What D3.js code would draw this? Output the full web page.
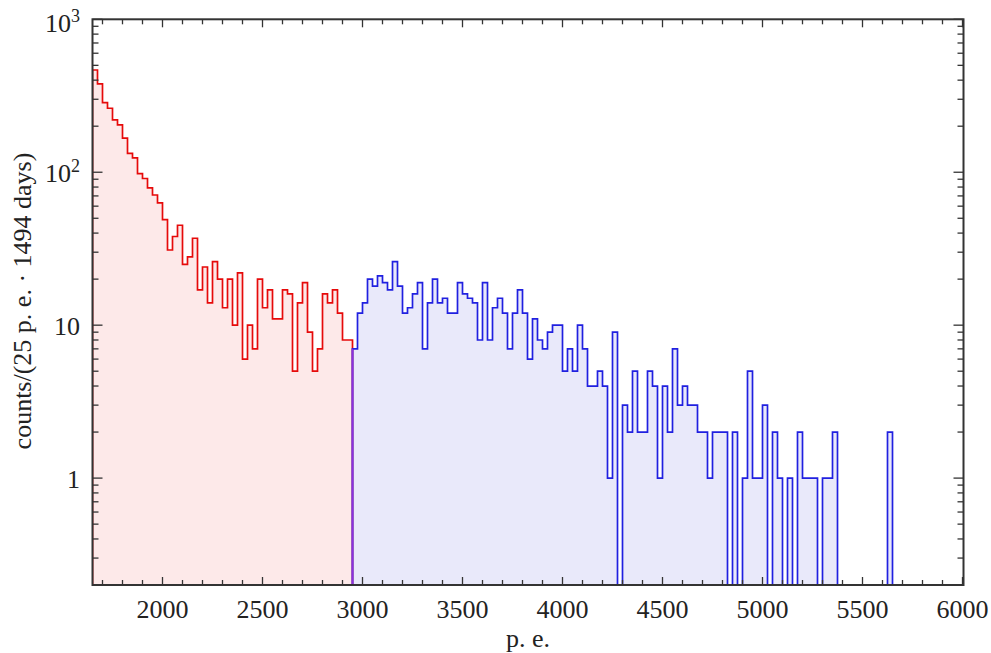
<!DOCTYPE html>
<html>
<head>
<meta charset="utf-8">
<script src="https://cdn.jsdelivr.net/npm/d3@7"></script>
<style>
  html, body { margin: 0; padding: 0; background: #fff; }
  svg { display: block; }
  text { font-family: "Liberation Serif", "Times New Roman", serif; fill: #222; }
</style>
</head>
<body>
<svg id="chart" width="991" height="653"></svg>
<script>
// ---------------- data ----------------
const binWidth = 25;            // p.e. per bin
const redStart = 1650;          // first red bin edge (p.e.)
const redCounts = [
  466, 378, 285, 262, 220, 204, 167, 133, 124, 98,
  91, 79, 71, 63, 49, 31, 38, 45, 25, 28,
  37, 17, 24, 14, 26, 20, 13, 20, 10, 22,
  6, 10, 7, 20, 13, 17, 11, 11, 17, 16,
  5, 14, 19, 9, 5, 7, 16, 14, 17, 12,
  8, 8
];
const blueStart = 2950;         // first blue bin edge (p.e.)
const blueCounts = [
  7, 12, 14, 20, 18, 21, 19, 17, 26, 18,
  12, 13, 16, 19, 7, 14, 20, 14, 15, 12,
  12, 19, 16, 15, 14, 8, 19, 8, 13, 15,
  12, 7, 12, 17, 12, 6, 11, 8, 7, 9,
  10, 10, 5, 7, 5, 10, 7, 4, 4, 5,
  4, 1, 9, 0, 3, 2, 5, 2, 2, 5,
  4, 1, 4, 2, 7, 3, 4, 3, 3, 2,
  2, 1, 2, 2, 2, 0, 2, 0, 1, 5,
  1, 1, 3, 0, 2, 1, 0, 1, 0, 2,
  1, 1, 1, 0, 1, 1, 2, 0, 0, 0,
  0, 0, 0, 0, 0, 0, 0, 2, 0
];
const xTickValues = [2000, 2500, 3000, 3500, 4000, 4500, 5000, 5500, 6000];
const yMajorTicks = [1, 10, 100, 1000];
const yTickLabels = [["1", ""], ["10", ""], ["10", "2"], ["10", "3"]];
const xLabel = "p. e.";
const yLabel = "counts/(25 p. e. · 1494 days)";

// ---------------- layout ----------------
const svg = d3.select("#chart");
const L = 92.5, R = 963.5, T = 19.3, B = 585;
const x = d3.scaleLinear().domain([1650, 6005]).range([L, R]);
const y = d3.scaleLog().domain([0.2, 1000]).range([B, T]);
const base = y.range()[0];
const yv = v => v > 0 ? y(v) : base;

svg.append("defs").append("clipPath").attr("id", "clip")
  .append("rect").attr("x", L).attr("y", T).attr("width", R - L).attr("height", B - T);

function stepPoints(start, counts) {
  const pts = [];
  counts.forEach((c, i) => {
    pts.push([x(start + i * binWidth), yv(c)]);
    pts.push([x(start + (i + 1) * binWidth), yv(c)]);
  });
  return pts;
}
const line = d3.line();
const area = d3.area().x(d => d[0]).y0(base).y1(d => d[1]);

const plot = svg.append("g").attr("clip-path", "url(#clip)");

const redPts = stepPoints(redStart, redCounts);
const bluePts = stepPoints(blueStart, blueCounts);

plot.append("path").attr("d", area(redPts)).attr("fill", "#fde9e9");
plot.append("path").attr("d", area(bluePts)).attr("fill", "#e9e9fa");

const redLine = [[redPts[0][0], base], ...redPts, [redPts[redPts.length - 1][0], base]];
const blueLine = [[bluePts[0][0], base], ...bluePts, [bluePts[bluePts.length - 1][0], base]];

plot.append("path").attr("d", line(redLine))
  .attr("fill", "none").attr("stroke", "#e60a0a").attr("stroke-width", 1.7)
  .attr("stroke-linejoin", "miter");
plot.append("path").attr("d", line(blueLine))
  .attr("fill", "none").attr("stroke", "#2020e0").attr("stroke-width", 1.7)
  .attr("stroke-linejoin", "miter");

// boundary between the two ranges (overlap of red and blue edges)
const bx = x(blueStart);
const lowTop = Math.max(yv(redCounts[redCounts.length - 1]), yv(blueCounts[0]));
plot.append("line").attr("x1", bx).attr("x2", bx).attr("y1", lowTop).attr("y2", base)
  .attr("stroke", "#8a30e0").attr("stroke-width", 1.8);

// ---------------- axes ----------------
const axisColor = "#333";
const ticks = svg.append("g").attr("stroke", axisColor).attr("stroke-width", 1.3);

// x ticks (every 100, major every 500), bottom and top, inward
d3.range(1700, 6001, 100).forEach(v => {
  const len = (v % 500 === 0) ? 8 : 5;
  const xx = x(v);
  ticks.append("line").attr("x1", xx).attr("x2", xx).attr("y1", B).attr("y2", B - len);
  ticks.append("line").attr("x1", xx).attr("x2", xx).attr("y1", T).attr("y2", T + len);
});

// y ticks (log), left and right, inward
const yMinor = [];
[0.1, 1, 10, 100].forEach(d => {
  for (let k = 2; k <= 9; k++) {
    const v = d * k;
    if (v >= 0.2 && v <= 1000) yMinor.push(v);
  }
});
yMinor.forEach(v => {
  const yy = y(v);
  ticks.append("line").attr("x1", L).attr("x2", L + 6).attr("y1", yy).attr("y2", yy);
  ticks.append("line").attr("x1", R).attr("x2", R - 6).attr("y1", yy).attr("y2", yy);
});
yMajorTicks.forEach(v => {
  const yy = y(v);
  ticks.append("line").attr("x1", L).attr("x2", L + 10).attr("y1", yy).attr("y2", yy);
  ticks.append("line").attr("x1", R).attr("x2", R - 10).attr("y1", yy).attr("y2", yy);
});

// frame
svg.append("rect").attr("x", L).attr("y", T).attr("width", R - L).attr("height", B - T)
  .attr("fill", "none").attr("stroke", axisColor).attr("stroke-width", 2);

// x tick labels
svg.append("g").selectAll("text").data(xTickValues).join("text")
  .attr("x", d => x(d)).attr("y", 618)
  .attr("text-anchor", "middle").attr("font-size", 26)
  .text(d => d);

// y tick labels
yMajorTicks.forEach((v, i) => {
  const [mant, exp] = yTickLabels[i];
  const t = svg.append("text")
    .attr("x", 80).attr("y", Math.max(y(v) + 9.5, 31.5))
    .attr("text-anchor", "end").attr("font-size", 26);
  t.append("tspan").text(mant);
  if (exp) t.append("tspan").attr("font-size", 18).attr("dy", -10).text(exp);
});

// axis titles
svg.append("text").attr("x", (L + R) / 2 + 0).attr("y", 647)
  .attr("text-anchor", "middle").attr("font-size", 26).text(xLabel);
svg.append("text").attr("transform", "translate(30.5,301) rotate(-90)")
  .attr("text-anchor", "middle").attr("font-size", 26).text(yLabel);
</script>
</body>
</html>
